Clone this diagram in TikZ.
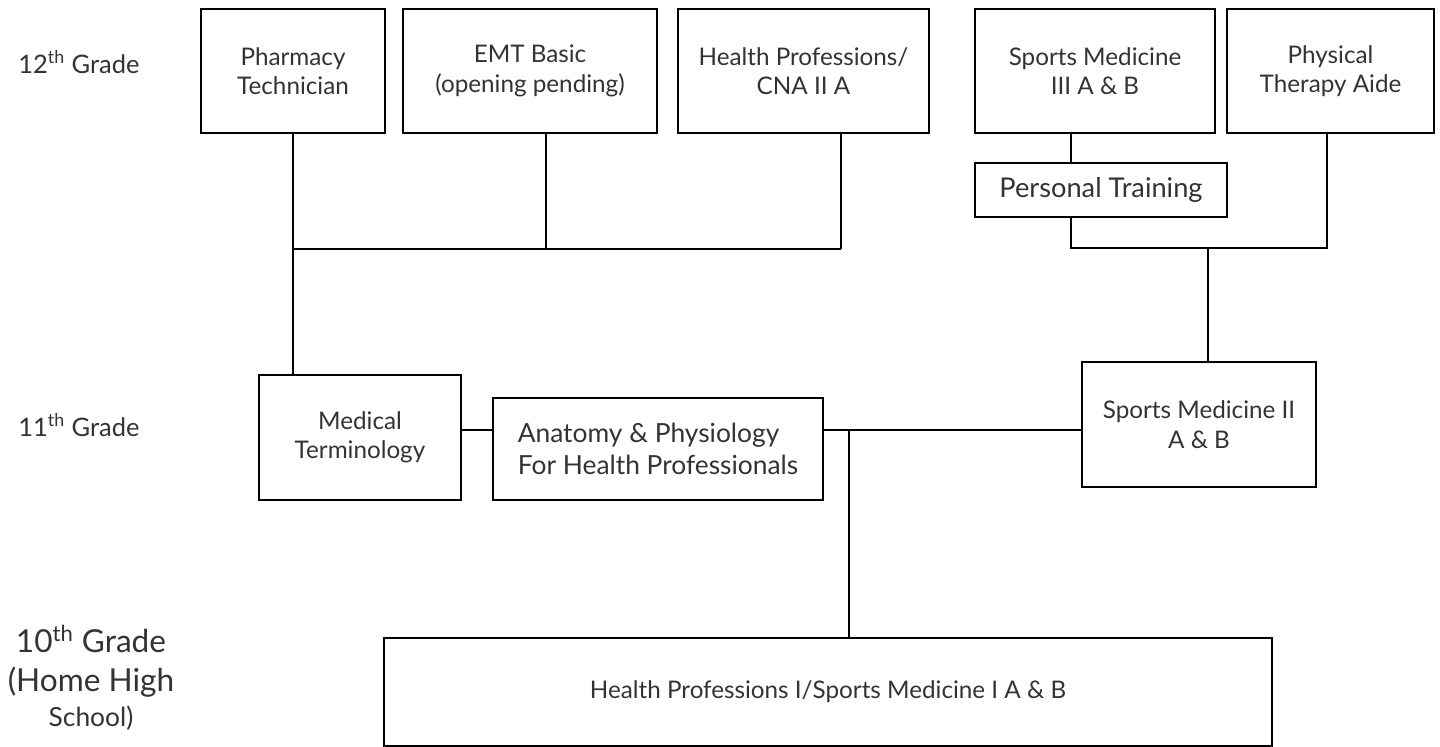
\documentclass[tikz,border=0pt]{standalone}
\usepackage{fontspec}
\setmainfont{Lato}
\usepackage{xcolor}
\usetikzlibrary{positioning}

\begin{document}
\begin{tikzpicture}[x=0.02cm, y=-0.02cm,
    course/.style={draw, line width=1.1pt, rectangle, inner sep=2pt, align=center, text=black!80, font=\fontsize{13.8}{16.8}\selectfont},
    grade/.style={text=black!80, font=\fontsize{14.5}{17}\selectfont, inner sep=0pt},
    link/.style={line width=1pt}
]
    \useasboundingbox (0,0) rectangle (1440,747);

    % 12th grade
    \node[course, minimum width=3.68cm, minimum height=2.48cm] (pharm) at (293,71) {Pharmacy\\Technician};
    \node[course, minimum width=5.08cm, minimum height=2.48cm] (emt) at (530,71) {EMT Basic\\(opening pending)};
    \node[course, minimum width=5.02cm, minimum height=2.48cm] (hpcna) at (803.5,71) {Health Professions/\\CNA II A};
    \node[course, minimum width=4.80cm, minimum height=2.48cm] (smiii) at (1095,71) {Sports Medicine\\III A \& B};
    \node[course, minimum width=4.14cm, minimum height=2.48cm] (pta) at (1330.5,71) {Physical\\Therapy Aide};
    \node[course, minimum width=5.04cm, minimum height=1.08cm, font=\fontsize{15.5}{18}\selectfont] (ptrain) at (1101,190) {Personal Training};

    % 11th grade
    \node[course, minimum width=4.04cm, minimum height=2.50cm] (medterm) at (360,437.5) {Medical\\Terminology};
    \node[course, minimum width=6.60cm, minimum height=2.04cm, align=left, font=\fontsize{15}{17.8}\selectfont] (anat) at (658,449) {Anatomy \& Physiology\\For Health Professionals};
    \node[course, minimum width=4.68cm, minimum height=2.50cm] (smii) at (1199,424.5) {Sports Medicine II\\A \& B};

    % 10th grade
    \node[course, minimum width=17.76cm, minimum height=2.16cm] (hpsm) at (828,692) {Health Professions I/Sports Medicine I A \& B};

    % grade labels
    \node[grade, anchor=west] (g12) at (18,62) {12\textsuperscript{th} Grade};
    \node[grade, anchor=west] (g11) at (18,425) {11\textsuperscript{th} Grade};
    \node[grade, align=center, font=\fontsize{18}{22}\selectfont] (g10) at (91,678) {10\textsuperscript{th} Grade\\(Home High\\[-2pt]{\fontsize{15}{18}\selectfont School)}};

    % joints
    \coordinate (busL) at (290,249);
    \coordinate (busR) at (1208,248);
    \coordinate (row) at (0,430);
    \coordinate (drop) at (849,430);

    % left tree
    \draw[link] (pharm.south) -- (pharm.south |- medterm.north);
    \draw[link] ([xshift=0.32cm]emt.south) -- ([xshift=0.32cm]emt.south |- busL);
    \draw[link] ([xshift=0.75cm]hpcna.south) -- ([xshift=0.75cm]hpcna.south |- busL);
    \draw[link] (pharm.south |- busL) -- ([xshift=0.75cm]hpcna.south |- busL);

    % right tree
    \draw[link] ([xshift=-0.48cm]smiii.south) -- ([xshift=-0.6cm]ptrain.north);
    \draw[link] ([xshift=-0.6cm]ptrain.south) -- ([xshift=-0.6cm]ptrain.south |- busR) -- ([xshift=-0.07cm]pta.south |- busR) -- ([xshift=-0.07cm]pta.south);
    \draw[link] (busR) -- (busR |- smii.north);

    % 11th row
    \draw[link] (medterm.east |- row) -- (anat.west |- row);
    \draw[link] (anat.east |- row) -- (smii.west |- row);
    \draw[link] (drop) -- (drop |- hpsm.north);
\end{tikzpicture}
\end{document}
